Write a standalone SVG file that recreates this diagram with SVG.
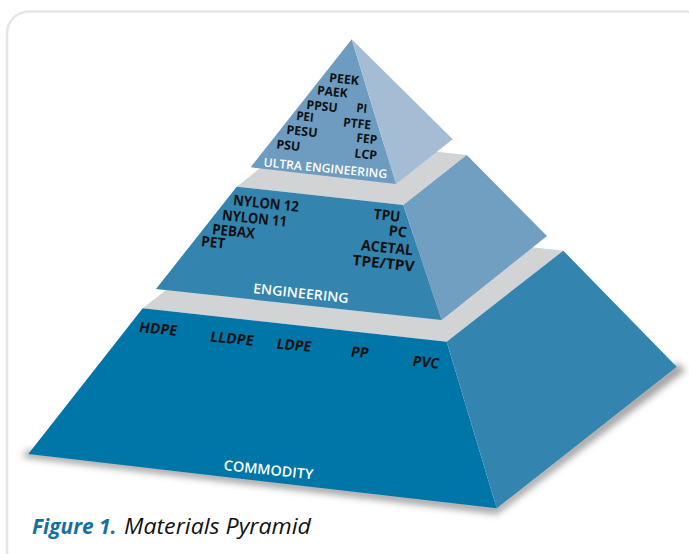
<svg xmlns="http://www.w3.org/2000/svg" width="689" height="554" viewBox="0 0 689 554">
  <defs>
    <filter id="soft" x="-10%" y="-10%" width="120%" height="130%">
      <feGaussianBlur stdDeviation="3.5"/>
    </filter>
  </defs>
  <style>
    .frame { fill: none; stroke: #e5e6e7; stroke-width: 2.5; }
    .ledge { fill: #d1d3d4; }
    .lbl { font-family: "Open Sans", "Liberation Sans", sans-serif; font-weight: 700; fill: #111111; }
    .lbl-s { font-size: 12.5px; }
    .lbl-m { font-size: 14.5px; }
    .lbl-b { font-size: 14.5px; }
    .tier-name { font-family: "Open Sans", "Liberation Sans", sans-serif; font-weight: 600; fill: #ffffff; }
    .cap { font-family: "Open Sans", "Liberation Sans", sans-serif; font-style: italic; font-size: 22px; }
  </style>

  <!-- page frame -->
  <rect class="frame" x="7" y="11.5" width="700" height="600" rx="22"/>

  <!-- base tier -->
  <g id="tier-commodity">
    <polygon points="22,457 497,514 686,370 676,363 497,505 28,450" fill="#808080" opacity="0.75" filter="url(#soft)"/>
    <polygon class="ledge" points="142.7,308.3 446.7,341.7 563.3,250.7 259.3,217.3"/>
    <polygon points="142.7,308.3 446.7,341.7 496.7,508.3 28.3,454" fill="#0075a8"/>
    <polygon points="446.7,341.7 563.3,250.7 676.7,366.7 496.7,508.3" fill="#3385b0"/>
    <!-- base labels lean slightly with the face -->
    <text class="lbl lbl-b" x="0" y="0" textLength="38" lengthAdjust="spacingAndGlyphs" transform="translate(138.3 332) rotate(5.5) skewX(-7)">HDPE</text>
    <text class="lbl lbl-b" x="0" y="0" textLength="43.5" lengthAdjust="spacingAndGlyphs" transform="translate(209.3 341.5) rotate(5.5) skewX(-7)">LLDPE</text>
    <text class="lbl lbl-b" x="0" y="0" textLength="34.6" lengthAdjust="spacingAndGlyphs" transform="translate(275.7 348.5) rotate(5.5) skewX(-7)">LDPE</text>
    <text class="lbl lbl-b" x="0" y="0" textLength="17.7" lengthAdjust="spacingAndGlyphs" transform="translate(350 356.5) rotate(5.5) skewX(-7)">PP</text>
    <text class="lbl lbl-b" x="0" y="0" textLength="26.6" lengthAdjust="spacingAndGlyphs" transform="translate(411.7 366) rotate(5.5) skewX(-7)">PVC</text>
    <text class="tier-name" x="223.3" y="470" font-size="14" textLength="90" lengthAdjust="spacingAndGlyphs" transform="rotate(6 223.3 470)">COMMODITY</text>
  </g>

  <!-- middle tier -->
  <g id="tier-engineering">
    <polygon class="ledge" points="236.7,186.7 403.3,205 466.7,155 300.1,136.7"/>
    <polygon points="236.7,186.7 403.3,205 441.7,320 156,289" fill="#3384af"/>
    <polygon points="403.3,205 466.7,155 547,236 441.7,320" fill="#719fc2"/>
    <text class="lbl lbl-m" x="232.7" y="205" textLength="66" lengthAdjust="spacingAndGlyphs" transform="rotate(6 232.7 205)">NYLON 12</text>
    <text class="lbl lbl-m" x="221.7" y="220" textLength="65" lengthAdjust="spacingAndGlyphs" transform="rotate(6 221.7 220)">NYLON 11</text>
    <text class="lbl lbl-m" x="211.7" y="234" textLength="43" lengthAdjust="spacingAndGlyphs" transform="rotate(6 211.7 234)">PEBAX</text>
    <text class="lbl lbl-m" x="200.7" y="246" textLength="24" lengthAdjust="spacingAndGlyphs" transform="rotate(6 200.7 246)">PET</text>
    <text class="lbl lbl-m" x="373.3" y="219" textLength="26.7" lengthAdjust="spacingAndGlyphs" transform="rotate(6 373.3 219)">TPU</text>
    <text class="lbl lbl-m" x="388.3" y="235.5" textLength="18.3" lengthAdjust="spacingAndGlyphs" transform="rotate(6 388.3 235.5)">PC</text>
    <text class="lbl lbl-m" x="360.7" y="250" textLength="52" lengthAdjust="spacingAndGlyphs" transform="rotate(6 360.7 250)">ACETAL</text>
    <text class="lbl lbl-m" x="352" y="265" textLength="62.3" lengthAdjust="spacingAndGlyphs" transform="rotate(6 352 265)">TPE/TPV</text>
    <text class="tier-name" x="252.7" y="293" font-size="13.5" textLength="96" lengthAdjust="spacingAndGlyphs" transform="rotate(6 252.7 293)">ENGINEERING</text>
  </g>

  <!-- top tier -->
  <g id="tier-ultra">
    <polygon points="351.7,39.3 250.7,167.3 396,184" fill="#6e9cc0"/>
    <polygon points="351.7,39.3 396,184 452.7,139.3" fill="#a4bdd5"/>
    <text class="lbl lbl-s" x="328.7" y="82" textLength="30" lengthAdjust="spacingAndGlyphs" transform="rotate(6 328.7 82)">PEEK</text>
    <text class="lbl lbl-s" x="316.7" y="94.5" textLength="30.7" lengthAdjust="spacingAndGlyphs" transform="rotate(6 316.7 94.5)">PAEK</text>
    <text class="lbl lbl-s" x="306" y="109" textLength="31.3" lengthAdjust="spacingAndGlyphs" transform="rotate(6 306 109)">PPSU</text>
    <text class="lbl lbl-s" x="296" y="120" textLength="17.3" lengthAdjust="spacingAndGlyphs" transform="rotate(6 296 120)">PEI</text>
    <text class="lbl lbl-s" x="286" y="134" textLength="31.3" lengthAdjust="spacingAndGlyphs" transform="rotate(6 286 134)">PESU</text>
    <text class="lbl lbl-s" x="276" y="148.5" textLength="24" lengthAdjust="spacingAndGlyphs" transform="rotate(6 276 148.5)">PSU</text>
    <text class="lbl lbl-s" x="356" y="112" textLength="10.7" lengthAdjust="spacingAndGlyphs" transform="rotate(6 356 112)">PI</text>
    <text class="lbl lbl-s" x="342.7" y="126.5" textLength="28" lengthAdjust="spacingAndGlyphs" transform="rotate(6 342.7 126.5)">PTFE</text>
    <text class="lbl lbl-s" x="356" y="142" textLength="20.7" lengthAdjust="spacingAndGlyphs" transform="rotate(6 356 142)">FEP</text>
    <text class="lbl lbl-s" x="354" y="157.5" textLength="22.7" lengthAdjust="spacingAndGlyphs" transform="rotate(6 354 157.5)">LCP</text>
    <text class="tier-name" x="263.3" y="166.5" font-size="12" textLength="124" lengthAdjust="spacingAndGlyphs" transform="rotate(5.5 263.3 166.5)">ULTRA ENGINEERING</text>
  </g>

  <!-- caption -->
  <text class="cap" x="32" y="534"><tspan font-weight="700" fill="#16709f" textLength="84.5" lengthAdjust="spacingAndGlyphs">Figure 1.</tspan><tspan x="124" fill="#111111" textLength="187" lengthAdjust="spacingAndGlyphs">Materials Pyramid</tspan></text>
</svg>
